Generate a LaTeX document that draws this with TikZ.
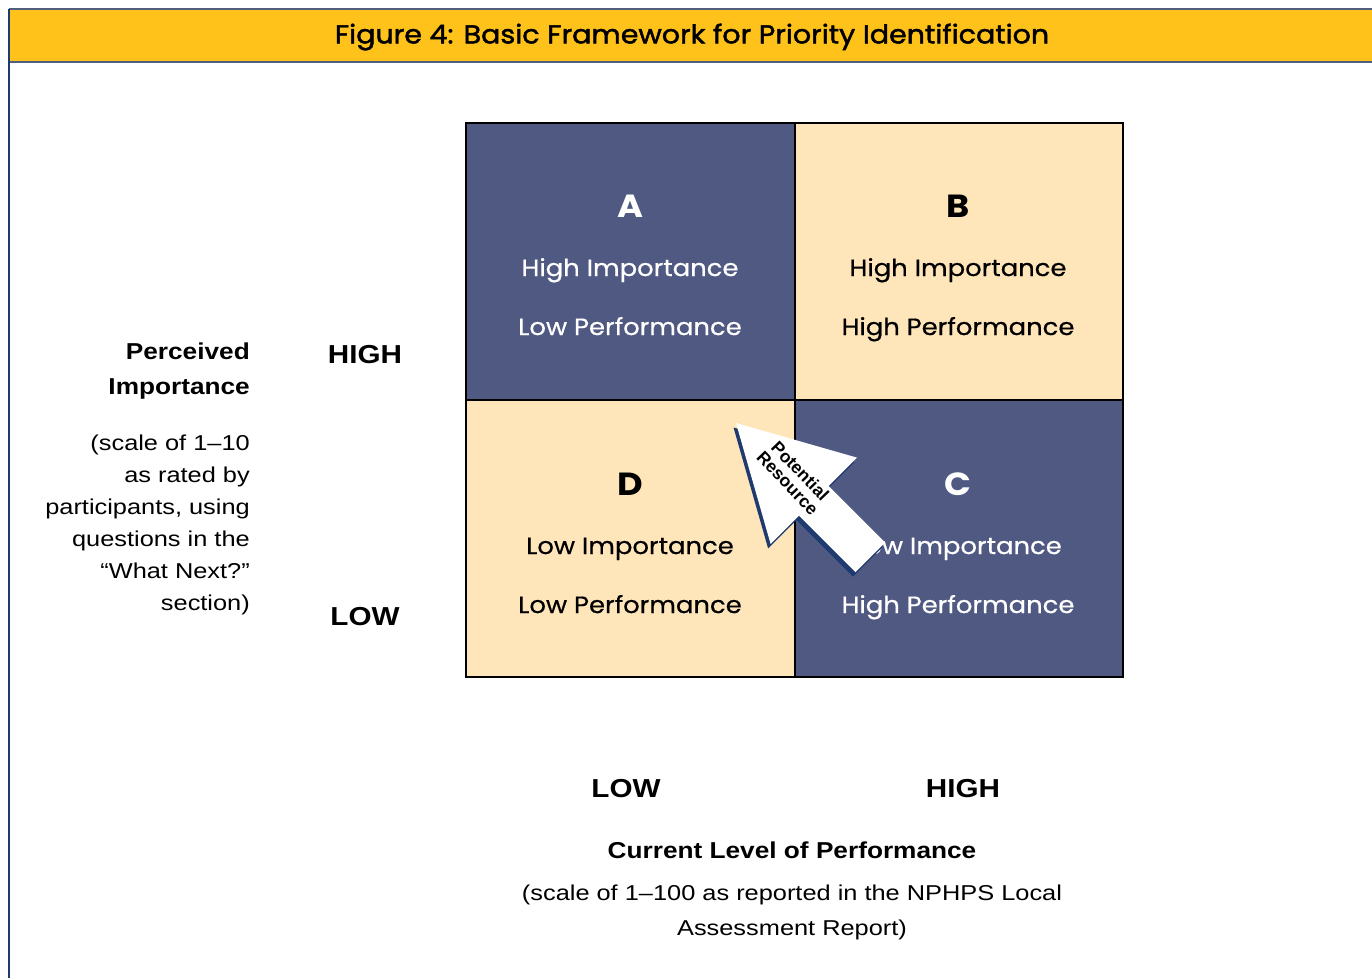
\documentclass[tikz,border=0pt]{standalone}
\usepackage{fontspec}
\setmainfont{Liberation Sans}
\newfontfamily\popf[FakeStretch=1.1]{Poppins}
\newfontfamily\popq[FakeStretch=1.1,FakeBold=0.6]{Poppins}
\newfontfamily\popt[FakeStretch=1.1,FakeBold=1.8]{Poppins}
\newfontfamily\axf[FakeStretch=1.18]{Liberation Sans}
\newfontfamily\axbf[FakeStretch=1.14]{Liberation Sans}
\begin{document}
\begin{tikzpicture}[x=1pt,y=-1pt,
  dark/.style={fill=quadDark},
  light/.style={fill=quadLight},
  qletter/.style={font=\popf\bfseries\fontsize{32}{36}\selectfont, anchor=base, inner sep=0pt},
  qtext/.style={font=\popq\fontsize{23.5}{26}\selectfont, anchor=base, inner sep=0pt},
  axbold/.style={font=\axbf\bfseries\fontsize{23}{35}\selectfont, inner sep=0pt},
  axtext/.style={font=\axf\fontsize{21.5}{32}\selectfont, inner sep=0pt},
  axlevel/.style={font=\axbf\bfseries\fontsize{26}{30}\selectfont, inner sep=0pt},
  arrowtext/.style={font=\bfseries\fontsize{17.5}{17.5}\selectfont, align=center, rotate=-46, text=black}
]
\definecolor{band}{RGB}{255,194,26}
\definecolor{navy}{RGB}{31,58,110}
\definecolor{quadDark}{RGB}{79,89,130}
\definecolor{quadLight}{RGB}{255,230,186}
\definecolor{bandline}{RGB}{80,95,125}
\useasboundingbox (0,0) rectangle (1372,978);
\fill[white] (0,0) rectangle (1372,978);
% frame
\fill[band] (9,9) rectangle (1372,62);
\draw[bandline, line width=1.5] (9,9) -- (1372,9);
\draw[bandline, line width=1.5] (9,62) -- (1372,62);
\draw[navy, line width=2] (9,9) -- (9,978);
\node[font=\popt\fontsize{25.9}{28}\selectfont, anchor=center] (title) at (692,37) {Figure 4: Basic Framework for Priority Identification};
% quadrants
\path[dark]  (466,123) rectangle (795,400);
\path[light] (795,123) rectangle (1123,400);
\path[light] (466,400) rectangle (795,677);
\path[dark]  (795,400) rectangle (1123,677);
\draw[black, line width=2] (466,123) rectangle (1123,677);
\draw[black, line width=2] (795,123) -- (795,677);
\draw[black, line width=2] (466,400) -- (1123,400);
% quadrant texts
\node[qletter, text=white] (qA) at (630,217) {A};
\node[qtext, text=white] (qA1) at (630,276) {High Importance};
\node[qtext, text=white] (qA2) at (630,335) {Low Performance};
\node[qletter] (qB) at (958,217) {B};
\node[qtext] (qB1) at (958,276) {High Importance};
\node[qtext] (qB2) at (958,335) {High Performance};
\node[qletter] (qD) at (630,495) {D};
\node[qtext] (qD1) at (630,554) {Low Importance};
\node[qtext] (qD2) at (630,613) {Low Performance};
\node[qletter, text=white] (qC) at (958,495) {C};
\node[qtext, text=white] (qC1) at (958,554) {Low Importance};
\node[qtext, text=white] (qC2) at (958,613) {High Performance};
% arrow
\fill[navy, shift={(-2.5,4.5)}] (736,423) -- (770.6,543.9) -- (798.9,515.6) -- (855.5,572.2) -- (885.2,542.5) -- (828.6,485.9) -- (856.9,457.6) -- cycle;
\fill[white] (736,423) -- (770.6,543.9) -- (798.9,515.6) -- (855.5,572.2) -- (885.2,542.5) -- (828.6,485.9) -- (856.9,457.6) -- cycle;
\node[arrowtext] (arrowlbl) at (794,477) {Potential\\Resource};
% left axis labels
\node[axbold, anchor=east, align=right] (pi) at (250,371) {Perceived\\Importance};
\node[axtext, anchor=east, align=right] (pisc) at (250,525) {(scale of 1–10\\as rated by\\participants, using\\questions in the\\“What Next?”\\section)};
\node[axlevel] (yhigh) at (365,355) {HIGH};
\node[axlevel] (ylow) at (365,617) {LOW};
% bottom axis labels
\node[axlevel] (xlow) at (626,789) {LOW};
\node[axlevel] (xhigh) at (963,789) {HIGH};
\node[axbold] (cl) at (792,850) {Current Level of Performance};
\node[axtext, align=center, font=\axf\fontsize{21.5}{35}\selectfont] (clsc) at (792,912) {(scale of 1–100 as reported in the NPHPS Local\\Assessment Report)};
\end{tikzpicture}
\end{document}
